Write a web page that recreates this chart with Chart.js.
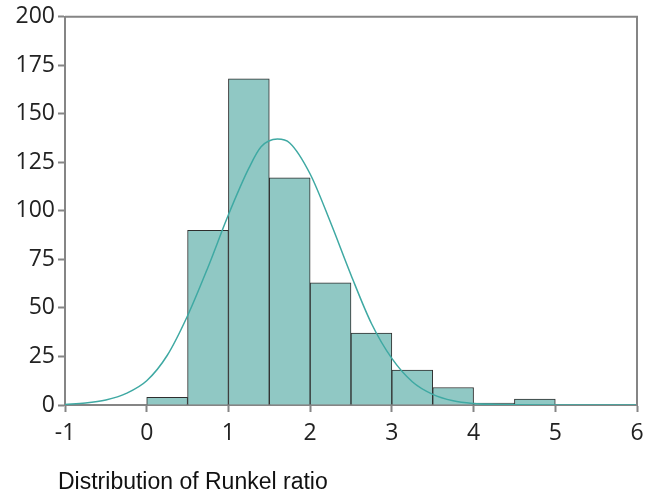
<!DOCTYPE html>
<html>
<head>
<meta charset="utf-8">
<script src="https://cdn.jsdelivr.net/npm/chart.js@4"></script>
<style>
  body { margin: 0; background: #fff; }
  #wrap { width: 646px; height: 494px; }
</style>
</head>
<body>
<div id="wrap"><canvas id="chart" width="646" height="494"></canvas></div>
<script>
// histogram bins (centre of each 0.5-wide bin) and counts
const binCenters = [0.25, 0.75, 1.25, 1.75, 2.25, 2.75, 3.25, 3.75, 4.25, 4.75];
const binCounts = [4, 90, 168, 117, 63, 37, 18, 9, 1, 3];

// fitted curve
const curveX = [-1, -0.75, -0.5, -0.25, 0, 0.25, 0.5, 0.75, 1, 1.25, 1.4, 1.6, 1.75, 2, 2.25, 2.5, 2.75, 3, 3.25, 3.5, 3.75, 4, 4.25, 4.5, 5, 5.5, 6];
const curveY = [0.3, 1, 2.6, 6, 12.5, 25.5, 46, 71, 98, 122, 133, 137, 135, 119, 94, 67, 42, 24, 12, 5.5, 2.2, 0.8, 0.3, 0.1, 0, 0, 0];

const xTicks = [-1, 0, 1, 2, 3, 4, 5, 6];
const yTicks = [0, 25, 50, 75, 100, 125, 150, 175, 200];
const caption = 'Distribution of Runkel ratio';

const AXIS = '#858585';

// top and right edges of the frame, plus the caption under the x axis
const frameBox = {
  id: 'frameBox',
  afterDraw(chart) {
    const { ctx, chartArea: a } = chart;
    ctx.save();
    ctx.strokeStyle = AXIS;
    ctx.lineWidth = 2;
    ctx.beginPath();
    ctx.moveTo(a.left, a.top);
    ctx.lineTo(a.right, a.top);
    ctx.lineTo(a.right, a.bottom);
    ctx.stroke();

    ctx.fillStyle = '#111';
    ctx.font = '23px "Liberation Sans", Arial, sans-serif';
    ctx.textAlign = 'left';
    ctx.textBaseline = 'alphabetic';
    ctx.fillText(caption, a.left - 7, a.bottom + 84);
    ctx.restore();
  }
};

new Chart(document.getElementById('chart'), {
  type: 'bar',
  data: {
    datasets: [
      {
        type: 'line',
        data: curveX.map((x, i) => ({ x, y: curveY[i] })),
        borderColor: '#3fa9a3',
        borderWidth: 1.5,
        pointRadius: 0,
        cubicInterpolationMode: 'monotone',
        fill: false,
        order: 0
      },
      {
        type: 'bar',
        data: binCenters.map((x, i) => ({ x, y: binCounts[i] })),
        backgroundColor: '#90c8c4',
        borderColor: '#2e2e2e',
        borderWidth: 1,
        barPercentage: 1,
        categoryPercentage: 1,
        order: 1
      }
    ]
  },
  options: {
    responsive: false,
    animation: false,
    devicePixelRatio: 1,
    layout: { padding: { top: 16, right: 9, left: 0, bottom: 0 } },
    plugins: {
      legend: { display: false },
      tooltip: { enabled: false },
      title: { display: false }
    },
    scales: {
      x: {
        type: 'linear',
        offset: false,
        min: -1,
        max: 6,
        afterBuildTicks: (s) => { s.ticks = xTicks.map(v => ({ value: v })); },
        afterFit: (s) => { s.height = 89; s.paddingRight = 0; s.paddingLeft = 0; },
        ticks: {
          color: '#222',
          padding: 8,
          font: { family: 'Open Sans, sans-serif', size: 23 }
        },
        grid: { offset: false, drawOnChartArea: false, drawTicks: true, tickLength: 7, tickColor: AXIS, tickWidth: 2 },
        border: { color: AXIS, width: 2 }
      },
      y: {
        min: 0,
        max: 200,
        afterBuildTicks: (s) => { s.ticks = yTicks.map(v => ({ value: v })); },
        afterFit: (s) => { s.width = 65; },
        ticks: {
          color: '#222',
          padding: 3,
          font: { family: 'Open Sans, sans-serif', size: 23 }
        },
        grid: { drawOnChartArea: false, drawTicks: true, tickLength: 7, tickColor: AXIS, tickWidth: 2 },
        border: { color: AXIS, width: 2 }
      }
    }
  },
  plugins: [frameBox]
});
</script>
</body>
</html>
